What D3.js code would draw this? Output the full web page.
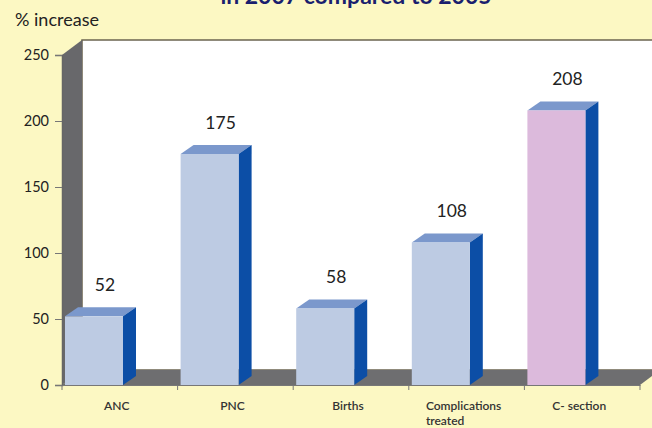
<!DOCTYPE html>
<html><head><meta charset="utf-8">
<script src="https://cdn.jsdelivr.net/npm/d3@7"></script>
<style>html,body{margin:0;padding:0;background:#fcf8c3;}svg{display:block;}</style>
</head><body>
<script>
const categories = ["ANC", "PNC", "Births", "Complications treated", "C- section"];
const values = [52, 175, 58, 108, 208];
const yTicks = [0, 50, 100, 150, 200, 250];
const titleText = "in 2007 compared to 2005";
const yTitle = "% increase";

const W = 652, H = 428;
const svg = d3.select("body").append("svg").attr("width", W).attr("height", H);
svg.append("rect").attr("width", W).attr("height", H).attr("fill", "#fcf8c3");

const x0 = 62, x1 = 640, yBase = 385, yTop = 55;
const wallDx = 20, wallDy = -15;
const barDx = 13, barDy = -9;
const font = "Lato, 'Open Sans', sans-serif";

const x = d3.scaleBand().domain(categories).range([x0, x1]).paddingInner(0).paddingOuter(0);
const y = d3.scaleLinear().domain([0, 250]).range([yBase, yTop]);

// back wall
svg.append("rect").attr("x", x0 + wallDx).attr("y", y(250) + wallDy)
  .attr("width", W - (x0 + wallDx) + 5).attr("height", y(0) - y(250))
  .attr("fill", "#ffffff").attr("stroke", "#6b6450").attr("stroke-width", 1.5);
// left wall
svg.append("polygon").attr("points", [
  [x0, y(250)], [x0 + wallDx, y(250) + wallDy], [x0 + wallDx, y(0) + wallDy], [x0, y(0)]
].map(p => p.join(",")).join(" ")).attr("fill", "#68686b");
// floor
svg.append("polygon").attr("points", [
  [x0, y(0)], [x0 + wallDx, y(0) + wallDy], [x1 + wallDx, y(0) + wallDy], [x1, y(0)]
].map(p => p.join(",")).join(" ")).attr("fill", "#6e6e70");

// bars
const bw = 58, off = 3;
categories.forEach((c, i) => {
  const bx = x(c) + off, by = y(values[i]);
  const front = i === 4 ? "#dcbadc" : "#bdcbe3";
  const g = svg.append("g");
  g.append("polygon").attr("points", [
    [bx, by], [bx + barDx, by + barDy], [bx + bw + barDx, by + barDy], [bx + bw, by]
  ].map(p => p.join(",")).join(" ")).attr("fill", "#7b98cc");
  g.append("polygon").attr("points", [
    [bx + bw, by], [bx + bw + barDx, by + barDy], [bx + bw + barDx, y(0) + barDy], [bx + bw, y(0)]
  ].map(p => p.join(",")).join(" ")).attr("fill", "#0c4ea6");
  g.append("rect").attr("x", bx).attr("y", by).attr("width", bw).attr("height", y(0) - by).attr("fill", front);
  svg.append("text").attr("x", bx + bw / 2 + 11).attr("y", by - 25)
    .attr("text-anchor", "middle").attr("font-family", font).attr("font-size", 17.5)
    .attr("fill", "#222").text(values[i]);
});

// y axis
const yAxis = svg.append("g").attr("transform", `translate(${x0},0)`)
  .call(d3.axisLeft(y).tickValues(yTicks).tickSize(7).tickPadding(6));
yAxis.select(".domain").attr("stroke", "#666").attr("stroke-width", 1.5);
yAxis.selectAll(".tick line").attr("stroke", "#777");
yAxis.selectAll("text").attr("font-family", font).attr("font-size", 14.5).attr("fill", "#222");

// x axis
const xAxis = svg.append("g").attr("transform", `translate(0,${yBase})`)
  .call(d3.axisBottom(x).tickSize(0).tickFormat(""));
xAxis.select(".domain").attr("stroke", "#777").attr("stroke-width", 1.2);
const bounds = categories.map(c => x(c) + x.bandwidth()).concat([x0]);
svg.append("g").selectAll("line").data(bounds).join("line")
  .attr("x1", d => d).attr("x2", d => d).attr("y1", yBase).attr("y2", yBase + 5)
  .attr("stroke", "#777");
categories.forEach(c => {
  const words = c === "Complications treated" ? ["Complications", "treated"] : [c];
  const cx = x(c) + x.bandwidth() / 2 - 3;
  const t1 = svg.append("text").attr("x", cx).attr("y", 410)
    .attr("text-anchor", "middle").attr("font-family", font).attr("font-size", 12)
    .attr("font-weight", 600).attr("fill", "#333").text(words[0]);
  if (words.length > 1) {
    const w = t1.node().getComputedTextLength();
    svg.append("text").attr("x", cx - w / 2).attr("y", 424.5)
      .attr("font-family", font).attr("font-size", 12)
      .attr("font-weight", 600).attr("fill", "#333").text(words[1]);
  }
});

// titles
svg.append("text").attr("x", 356).attr("y", 4).attr("text-anchor", "middle")
  .attr("font-family", font).attr("font-size", 23).attr("font-weight", 700)
  .attr("fill", "#1a1f6e").text(titleText);
svg.append("text").attr("x", 15).attr("y", 26).attr("font-family", font)
  .attr("font-size", 18).attr("fill", "#222").text(yTitle);
</script>
</body></html>
